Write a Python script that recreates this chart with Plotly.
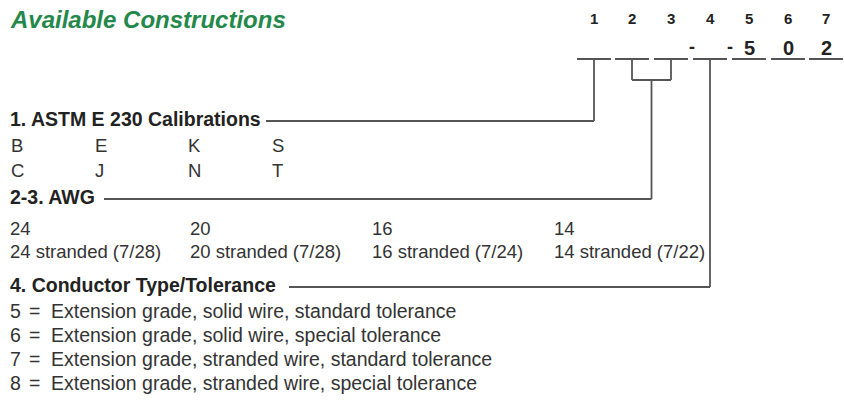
import plotly.graph_objects as go

# ---- content ----
title = "Available Constructions"
position_labels = ["1", "2", "3", "4", "5", "6", "7"]
code_values = ["", "", "", "", "5", "0", "2"]
headers = ["1. ASTM E 230 Calibrations", "2-3. AWG", "4. Conductor Type/Tolerance"]
calibrations_row1 = ["B", "E", "K", "S"]
calibrations_row2 = ["C", "J", "N", "T"]
awg_sizes = ["24", "20", "16", "14"]
awg_stranded = ["24 stranded (7/28)", "20 stranded (7/28)", "16 stranded (7/24)", "14 stranded (7/22)"]
conductor_codes = ["5", "6", "7", "8"]
conductor_desc = [
    "Extension grade, solid wire, standard tolerance",
    "Extension grade, solid wire, special tolerance",
    "Extension grade, stranded wire, standard tolerance",
    "Extension grade, stranded wire, special tolerance",
]

# ---- layout geometry (window pixel coordinates) ----
W, H = 844, 405
FONT = "Liberation Sans, Arial, Helvetica, sans-serif"
TXT = "#333333"
DARK = "#222222"
LINE = "#555555"
GREEN = "#23884a"

box_x = [594, 632, 671, 710, 749, 788, 826]
box_half = 17
num_y = 18
code_y = 48
underline_y = 59
header_y = [119, 197, 285]
header_line_start = [266, 104, 289]
cal_cols = [9, 93, 186, 270]
cal_rows_y = [145, 170]
awg_cols = [8, 188, 370, 552]
awg_rows_y = [228, 251]
cond_y0, cond_dy = 311, 24
join_y = 80
BODY = 18.5
HEAD = 19.5
DESC = 19.5

annotations = []
shapes = []

def text(x, y, s, size=BODY, color=TXT, weight="normal", style="normal",
         xanchor="left", family=FONT):
    annotations.append(dict(
        x=x, y=y, xref="x", yref="y", text=s,
        showarrow=False, xanchor=xanchor, yanchor="middle",
        font=dict(size=size, color=color, family=family, weight=weight, style=style)))

def line(x0, y0, x1, y1, w=1.8):
    shapes.append(dict(type="line", x0=x0, y0=y0, x1=x1, y1=y1, xref="x", yref="y",
                       line=dict(color=LINE, width=w)))

# title
text(8, 19, title + " ", size=24, color=GREEN, weight="bold", style="italic")

# position numbers, code boxes
for i, (lab, val) in enumerate(zip(position_labels, code_values)):
    bx = box_x[i]
    text(bx, num_y, lab, size=15, color=DARK, weight="bold", xanchor="center")
    line(bx - box_half, underline_y, bx + box_half, underline_y, w=2)
    if val:
        text(bx, code_y, val, size=20, color=DARK, weight="bold", xanchor="center")
# dashes between boxes 3-4 and 4-5
text((box_x[2] + box_x[3]) / 2 + 1, code_y - 1, "-", size=18, color=DARK, weight="bold", xanchor="center")
text((box_x[3] + box_x[4]) / 2, code_y - 1, "-", size=18, color=DARK, weight="bold", xanchor="center")

# connectors
line(box_x[0], underline_y, box_x[0], header_y[0] + 2)
line(header_line_start[0], header_y[0] + 2, box_x[0], header_y[0] + 2)
line(box_x[1], underline_y, box_x[1], join_y)
line(box_x[2], underline_y, box_x[2], join_y)
line(box_x[1], join_y, box_x[2], join_y)
mid23 = (box_x[1] + box_x[2]) / 2
line(mid23, join_y, mid23, header_y[1] + 2)
line(header_line_start[1], header_y[1] + 2, mid23, header_y[1] + 2)
line(box_x[3], underline_y, box_x[3], header_y[2] + 2)
line(header_line_start[2], header_y[2] + 2, box_x[3], header_y[2] + 2)

# headers
for h, y in zip(headers, header_y):
    text(8, y, h, size=HEAD, color=DARK, weight="bold")

# calibrations
for x, s in zip(cal_cols, calibrations_row1):
    text(x, cal_rows_y[0], s)
for x, s in zip(cal_cols, calibrations_row2):
    text(x, cal_rows_y[1], s)

# AWG
for x, s in zip(awg_cols, awg_sizes):
    text(x, awg_rows_y[0], s)
for x, s in zip(awg_cols, awg_stranded):
    text(x, awg_rows_y[1], s)

# conductor list
for i, (c, d) in enumerate(zip(conductor_codes, conductor_desc)):
    y = cond_y0 + i * cond_dy
    text(8, y, c, size=DESC)
    text(27, y, "=", size=DESC)
    text(49, y, d, size=DESC)

fig = go.Figure()
fig.update_layout(
    width=W, height=H, margin=dict(l=0, r=0, t=0, b=0),
    paper_bgcolor="white", plot_bgcolor="white",
    xaxis=dict(range=[0, W], visible=False, fixedrange=True),
    yaxis=dict(range=[H, 0], visible=False, fixedrange=True),
    shapes=shapes, annotations=annotations, showlegend=False,
)
fig.write_html("out.html",
               config={"displayModeBar": False, "staticPlot": True},
               post_script="document.body.style.margin='0';document.body.style.overflow='hidden';")
